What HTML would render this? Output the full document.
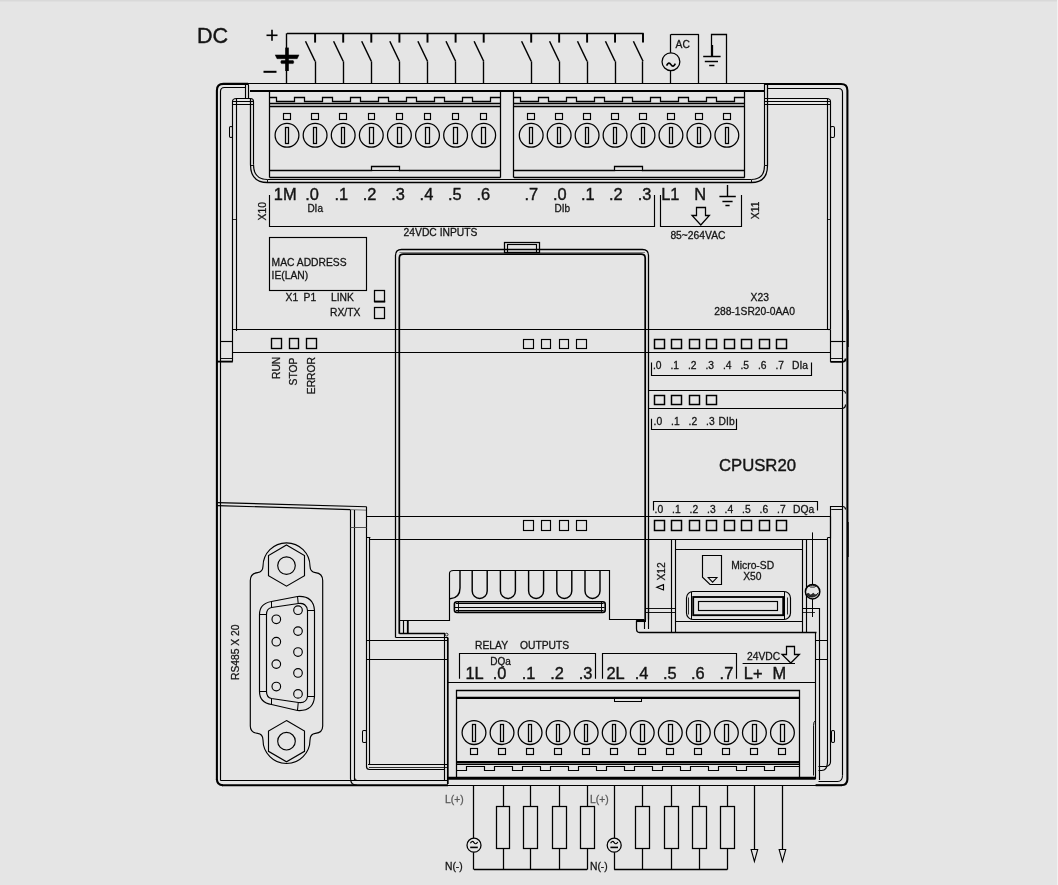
<!DOCTYPE html>
<html lang="en">
<head>
<meta charset="utf-8">
<title>CPU SR20 wiring diagram</title>
<style>
html,body{margin:0;padding:0;background:#e5e5e5;}
body{width:1058px;height:885px;overflow:hidden;font-family:"Liberation Sans",sans-serif;}
svg{display:block;filter:grayscale(1);}
</style>
</head>
<body>
<svg width="1058" height="885" viewBox="0 0 1058 885" font-family="'Liberation Sans', sans-serif">
<rect x="0" y="0" width="1058" height="885" fill="#e5e5e5"/>
<rect x="0" y="0" width="1058" height="1.5" fill="#d9d9d9"/>
<rect x="1057" y="0" width="1" height="885" fill="#f2f2f2"/>
<text x="197" y="42.8" font-size="21.6" fill="#141414" stroke="#141414" stroke-width="0.4" text-anchor="start" >DC</text>
<line x1="266.5" y1="35.3" x2="277.5" y2="35.3" stroke="#000000" stroke-width="1.61" />
<line x1="272" y1="29.8" x2="272" y2="40.8" stroke="#000000" stroke-width="1.61" />
<line x1="263.5" y1="71.8" x2="276.5" y2="71.8" stroke="#000000" stroke-width="2.01" />
<line x1="287.0" y1="33.5" x2="643.6" y2="33.5" stroke="#000000" stroke-width="1.38" />
<line x1="286.5" y1="33.3" x2="286.5" y2="83.6" stroke="#000000" stroke-width="1.38" />
<line x1="287.0" y1="47.6" x2="287.0" y2="71" stroke="#000000" stroke-width="3.56" />
<path d="M275.2,54.9 H299 L297.2,58.7 H277 Z" fill="#000" stroke="#000000" stroke-width="0.46" />
<path d="M281.4,60.6 H293.2 Q294.6,62 293.2,63.6 H281.4 Q280,62 281.4,60.6 Z" fill="#000" stroke="#000000" stroke-width="0.46" />
<line x1="315.1" y1="33.3" x2="315.1" y2="42.6" stroke="#000000" stroke-width="1.95" />
<line x1="305.5" y1="41.2" x2="315.1" y2="61.3" stroke="#000000" stroke-width="1.49" />
<line x1="315.5" y1="61.3" x2="315.5" y2="83.6" stroke="#000000" stroke-width="1.38" />
<line x1="343.2" y1="33.3" x2="343.2" y2="42.6" stroke="#000000" stroke-width="1.95" />
<line x1="333.59999999999997" y1="41.2" x2="343.2" y2="61.3" stroke="#000000" stroke-width="1.49" />
<line x1="343.5" y1="61.3" x2="343.5" y2="83.6" stroke="#000000" stroke-width="1.38" />
<line x1="371.3" y1="33.3" x2="371.3" y2="42.6" stroke="#000000" stroke-width="1.95" />
<line x1="361.7" y1="41.2" x2="371.3" y2="61.3" stroke="#000000" stroke-width="1.49" />
<line x1="371.5" y1="61.3" x2="371.5" y2="83.6" stroke="#000000" stroke-width="1.38" />
<line x1="399.4" y1="33.3" x2="399.4" y2="42.6" stroke="#000000" stroke-width="1.95" />
<line x1="389.79999999999995" y1="41.2" x2="399.4" y2="61.3" stroke="#000000" stroke-width="1.49" />
<line x1="399.5" y1="61.3" x2="399.5" y2="83.6" stroke="#000000" stroke-width="1.38" />
<line x1="427.5" y1="33.3" x2="427.5" y2="42.6" stroke="#000000" stroke-width="1.95" />
<line x1="417.9" y1="41.2" x2="427.5" y2="61.3" stroke="#000000" stroke-width="1.49" />
<line x1="427.5" y1="61.3" x2="427.5" y2="83.6" stroke="#000000" stroke-width="1.38" />
<line x1="455.6" y1="33.3" x2="455.6" y2="42.6" stroke="#000000" stroke-width="1.95" />
<line x1="446.0" y1="41.2" x2="455.6" y2="61.3" stroke="#000000" stroke-width="1.49" />
<line x1="455.5" y1="61.3" x2="455.5" y2="83.6" stroke="#000000" stroke-width="1.38" />
<line x1="483.70000000000005" y1="33.3" x2="483.70000000000005" y2="42.6" stroke="#000000" stroke-width="1.95" />
<line x1="474.1" y1="41.2" x2="483.70000000000005" y2="61.3" stroke="#000000" stroke-width="1.49" />
<line x1="483.5" y1="61.3" x2="483.5" y2="83.6" stroke="#000000" stroke-width="1.38" />
<line x1="531.2" y1="33.3" x2="531.2" y2="42.6" stroke="#000000" stroke-width="1.95" />
<line x1="521.6" y1="41.2" x2="531.2" y2="61.3" stroke="#000000" stroke-width="1.49" />
<line x1="531.5" y1="61.3" x2="531.5" y2="83.6" stroke="#000000" stroke-width="1.38" />
<line x1="559.1500000000001" y1="33.3" x2="559.1500000000001" y2="42.6" stroke="#000000" stroke-width="1.95" />
<line x1="549.5500000000001" y1="41.2" x2="559.1500000000001" y2="61.3" stroke="#000000" stroke-width="1.49" />
<line x1="559.5" y1="61.3" x2="559.5" y2="83.6" stroke="#000000" stroke-width="1.38" />
<line x1="587.1" y1="33.3" x2="587.1" y2="42.6" stroke="#000000" stroke-width="1.95" />
<line x1="577.5" y1="41.2" x2="587.1" y2="61.3" stroke="#000000" stroke-width="1.49" />
<line x1="587.5" y1="61.3" x2="587.5" y2="83.6" stroke="#000000" stroke-width="1.38" />
<line x1="615.0500000000001" y1="33.3" x2="615.0500000000001" y2="42.6" stroke="#000000" stroke-width="1.95" />
<line x1="605.45" y1="41.2" x2="615.0500000000001" y2="61.3" stroke="#000000" stroke-width="1.49" />
<line x1="615.5" y1="61.3" x2="615.5" y2="83.6" stroke="#000000" stroke-width="1.38" />
<line x1="643.0" y1="33.3" x2="643.0" y2="42.6" stroke="#000000" stroke-width="1.95" />
<line x1="633.4" y1="41.2" x2="643.0" y2="61.3" stroke="#000000" stroke-width="1.49" />
<line x1="642.5" y1="61.3" x2="642.5" y2="83.6" stroke="#000000" stroke-width="1.38" />
<line x1="670.5" y1="83.6" x2="670.5" y2="70.6" stroke="#000000" stroke-width="1.26" />
<circle cx="670.95" cy="61.7" r="8.9" fill="none" stroke="#000000" stroke-width="1.26"/>
<line x1="670.5" y1="52.8" x2="670.5" y2="34.3" stroke="#000000" stroke-width="1.26" />
<line x1="670.95" y1="34.5" x2="698.9000000000001" y2="34.5" stroke="#000000" stroke-width="1.26" />
<line x1="698.5" y1="34.3" x2="698.5" y2="83.6" stroke="#000000" stroke-width="1.26" />
<path d="M666.5500000000001,65.6 q2.2,-4.4 4.4,-1 t4.4,-1" fill="none" stroke="#000000" stroke-width="1.72" />
<text x="675.6" y="48.2" font-size="10.3" fill="#141414" stroke="#141414" stroke-width="0.28" text-anchor="start" >AC</text>
<polyline points="726.5,83.6 726.5,34.5 711.5,34.5 711.5,56.3" fill="none" stroke="#000000" stroke-width="1.26" />
<line x1="712.5" y1="45" x2="712.5" y2="56.3" stroke="#000000" stroke-width="1.26" />
<line x1="703.2" y1="56.5" x2="720.6" y2="56.5" stroke="#000000" stroke-width="1.49" />
<line x1="704.8" y1="61.5" x2="718" y2="61.5" stroke="#000000" stroke-width="1.49" />
<line x1="709.2" y1="65.5" x2="714.4" y2="65.5" stroke="#000000" stroke-width="1.49" />
<path d="M216.9,780 V90.4 Q216.9,83.9 223.4,83.9 H248" fill="none" stroke="#000000" stroke-width="2.07" />
<line x1="247" y1="83.5" x2="765.4" y2="83.5" stroke="#000000" stroke-width="1.15" />
<path d="M764.7,84 H841 Q847.4,84 847.4,90.4 V779.2 Q847.4,785.2 841,785.2" fill="none" stroke="#000000" stroke-width="2.07" />
<path d="M216.9,779 Q216.9,785.2 223,785.2" fill="none" stroke="#000000" stroke-width="2.07" />
<line x1="448" y1="785.5" x2="816" y2="785.5" stroke="#000000" stroke-width="1.15" />
<path d="M220.5,780.5 V91.5 Q220.5,87.5 224.5,87.5 H245.5" fill="none" stroke="#000000" stroke-width="1.15" />
<path d="M767.5,88.5 H838.5 Q842.5,88.5 842.5,92.5 V775.5" fill="none" stroke="#000000" stroke-width="1.15" />
<line x1="250" y1="91" x2="764.7" y2="91" stroke="#000000" stroke-width="2.01" />
<line x1="245.5" y1="84" x2="245.5" y2="98.4" stroke="#000000" stroke-width="1.15" />
<path d="M248.5,98.5 V85.5 Q248.5,84.5 247.5,83.5" fill="none" stroke="#000000" stroke-width="1.15" />
<path d="M232.5,361.5 V101.5 Q232.5,98.5 236.5,98.5 H250.5 Q253.5,98.5 253.5,101.5 V164.5" fill="none" stroke="#000000" stroke-width="1.15" />
<path d="M253.5,164.5 Q253.5,179.5 267.4,179.5" fill="none" stroke="#000000" stroke-width="1.15" />
<line x1="232.6" y1="101.5" x2="253.9" y2="101.5" stroke="#000000" stroke-width="1.03" />
<line x1="232.6" y1="104.5" x2="253.9" y2="104.5" stroke="#000000" stroke-width="1.03" />
<line x1="236.5" y1="98.6" x2="236.5" y2="331" stroke="#000000" stroke-width="1.15" />
<rect x="229.5" y="126.5" width="3.0" height="11.0" rx="1.2" fill="none" stroke="#000000" stroke-width="1.03"/>
<line x1="232.6" y1="219.5" x2="236.5" y2="219.5" stroke="#000000" stroke-width="0.8" />
<polyline points="220.7,341.5 232.6,341.5" fill="none" stroke="#000000" stroke-width="1.15" />
<polyline points="217,361.6 232.8,361.6" fill="none" stroke="#000000" stroke-width="1.84" />
<polyline points="220.7,358.5 232.6,358.5" fill="none" stroke="#000000" stroke-width="0.92" />
<path d="M250.5,98.5 V164.5 Q250.5,182.5 267.5,182.5 H751.5 Q767.5,182.5 767.5,165.5 V83.5" fill="none" stroke="#000000" stroke-width="1.26" />
<line x1="764.5" y1="84" x2="764.5" y2="165.5" stroke="#000000" stroke-width="1.15" />
<path d="M764.5,165.5 Q764.5,179.5 751.4,179.5" fill="none" stroke="#000000" stroke-width="1.15" />
<line x1="267.4" y1="179.5" x2="751.4" y2="179.5" stroke="#000000" stroke-width="1.15" />
<line x1="267.5" y1="179.8" x2="267.5" y2="182.6" stroke="#000000" stroke-width="0.92" />
<line x1="751.5" y1="179.8" x2="751.5" y2="182.6" stroke="#000000" stroke-width="0.92" />
<line x1="250.5" y1="165.5" x2="253.9" y2="165.5" stroke="#000000" stroke-width="0.92" />
<line x1="764.5" y1="165.5" x2="767.6" y2="165.5" stroke="#000000" stroke-width="0.92" />
<path d="M764.5,98.5 H826.5 Q830.5,98.5 830.5,101.5 V329.5" fill="none" stroke="#000000" stroke-width="1.15" />
<line x1="764.7" y1="101.5" x2="830.4" y2="101.5" stroke="#000000" stroke-width="1.03" />
<line x1="764.7" y1="104.5" x2="830.4" y2="104.5" stroke="#000000" stroke-width="1.03" />
<line x1="827.5" y1="98.4" x2="827.5" y2="330" stroke="#000000" stroke-width="1.15" />
<rect x="830.5" y="126.5" width="4.0" height="11.0" rx="1.4" fill="none" stroke="#000000" stroke-width="1.03"/>
<line x1="827.6" y1="219.5" x2="830.4" y2="219.5" stroke="#000000" stroke-width="0.8" />
<line x1="269.5" y1="90.8" x2="269.5" y2="177.6" stroke="#000000" stroke-width="1.26" />
<line x1="500.5" y1="90.8" x2="500.5" y2="177.6" stroke="#000000" stroke-width="1.26" />
<polyline points="269.6,97.5 276.5,97.5 276.5,101.5 294.5,101.5 294.5,97.5 304.5,97.5 304.5,101.5 322.5,101.5 322.5,97.5 332.5,97.5 332.5,101.5 350.5,101.5 350.5,97.5 360.5,97.5 360.5,101.5 378.5,101.5 378.5,97.5 388.5,97.5 388.5,101.5 406.5,101.5 406.5,97.5 416.5,97.5 416.5,101.5 434.5,101.5 434.5,97.5 444.5,97.5 444.5,101.5 462.5,101.5 462.5,97.5 472.5,97.5 472.5,101.5 490.5,101.5 490.5,97.5 500.5,97.5" fill="none" stroke="#000000" stroke-width="1.26" />
<line x1="269.6" y1="103.5" x2="500.5" y2="103.5" stroke="#000000" stroke-width="1.26" />
<line x1="269.6" y1="106.5" x2="500.5" y2="106.5" stroke="#000000" stroke-width="1.26" />
<rect x="283.5" y="113.5" width="7.0" height="6.0" rx="0" fill="none" stroke="#000000" stroke-width="1.15"/>
<circle cx="287.0" cy="135.3" r="11.9" fill="none" stroke="#000000" stroke-width="1.26"/>
<rect x="285.5" y="127.5" width="3.0" height="16.0" rx="0" fill="none" stroke="#000000" stroke-width="1.26"/>
<rect x="311.5" y="113.5" width="7.0" height="6.0" rx="0" fill="none" stroke="#000000" stroke-width="1.15"/>
<circle cx="315.1" cy="135.3" r="11.9" fill="none" stroke="#000000" stroke-width="1.26"/>
<rect x="313.5" y="127.5" width="3.0" height="16.0" rx="0" fill="none" stroke="#000000" stroke-width="1.26"/>
<rect x="339.5" y="113.5" width="7.0" height="6.0" rx="0" fill="none" stroke="#000000" stroke-width="1.15"/>
<circle cx="343.2" cy="135.3" r="11.9" fill="none" stroke="#000000" stroke-width="1.26"/>
<rect x="341.5" y="127.5" width="3.0" height="16.0" rx="0" fill="none" stroke="#000000" stroke-width="1.26"/>
<rect x="368.5" y="113.5" width="6.0" height="6.0" rx="0" fill="none" stroke="#000000" stroke-width="1.15"/>
<circle cx="371.3" cy="135.3" r="11.9" fill="none" stroke="#000000" stroke-width="1.26"/>
<rect x="369.5" y="127.5" width="4.0" height="16.0" rx="0" fill="none" stroke="#000000" stroke-width="1.26"/>
<rect x="396.5" y="113.5" width="6.0" height="6.0" rx="0" fill="none" stroke="#000000" stroke-width="1.15"/>
<circle cx="399.4" cy="135.3" r="11.9" fill="none" stroke="#000000" stroke-width="1.26"/>
<rect x="397.5" y="127.5" width="4.0" height="16.0" rx="0" fill="none" stroke="#000000" stroke-width="1.26"/>
<rect x="424.5" y="113.5" width="6.0" height="6.0" rx="0" fill="none" stroke="#000000" stroke-width="1.15"/>
<circle cx="427.5" cy="135.3" r="11.9" fill="none" stroke="#000000" stroke-width="1.26"/>
<rect x="425.5" y="127.5" width="4.0" height="16.0" rx="0" fill="none" stroke="#000000" stroke-width="1.26"/>
<rect x="452.5" y="113.5" width="6.0" height="6.0" rx="0" fill="none" stroke="#000000" stroke-width="1.15"/>
<circle cx="455.6" cy="135.3" r="11.9" fill="none" stroke="#000000" stroke-width="1.26"/>
<rect x="453.5" y="127.5" width="4.0" height="16.0" rx="0" fill="none" stroke="#000000" stroke-width="1.26"/>
<rect x="480.5" y="113.5" width="6.0" height="6.0" rx="0" fill="none" stroke="#000000" stroke-width="1.15"/>
<circle cx="483.70000000000005" cy="135.3" r="11.9" fill="none" stroke="#000000" stroke-width="1.26"/>
<rect x="481.5" y="127.5" width="4.0" height="16.0" rx="0" fill="none" stroke="#000000" stroke-width="1.26"/>
<polyline points="269.6,170.5 371.5,170.5 371.5,166.5 399.5,166.5 399.5,170.5 500.5,170.5" fill="none" stroke="#000000" stroke-width="1.26" />
<line x1="371.6" y1="170.5" x2="400" y2="170.5" stroke="#000000" stroke-width="1.15" />
<line x1="269.6" y1="177.5" x2="500.5" y2="177.5" stroke="#000000" stroke-width="1.26" />
<line x1="513.5" y1="90.8" x2="513.5" y2="177.6" stroke="#000000" stroke-width="1.26" />
<line x1="744.5" y1="90.8" x2="744.5" y2="177.6" stroke="#000000" stroke-width="1.26" />
<polyline points="513.8,97.5 520.5,97.5 520.5,101.5 538.5,101.5 538.5,97.5 548.5,97.5 548.5,101.5 566.5,101.5 566.5,97.5 576.5,97.5 576.5,101.5 594.5,101.5 594.5,97.5 604.5,97.5 604.5,101.5 622.5,101.5 622.5,97.5 632.5,97.5 632.5,101.5 650.5,101.5 650.5,97.5 660.5,97.5 660.5,101.5 678.5,101.5 678.5,97.5 688.5,97.5 688.5,101.5 706.5,101.5 706.5,97.5 716.5,97.5 716.5,101.5 734.5,101.5 734.5,97.5 744.6,97.5" fill="none" stroke="#000000" stroke-width="1.26" />
<line x1="513.8" y1="103.5" x2="744.6" y2="103.5" stroke="#000000" stroke-width="1.26" />
<line x1="513.8" y1="106.5" x2="744.6" y2="106.5" stroke="#000000" stroke-width="1.26" />
<rect x="527.5" y="113.5" width="7.0" height="6.0" rx="0" fill="none" stroke="#000000" stroke-width="1.15"/>
<circle cx="531.2" cy="135.3" r="11.9" fill="none" stroke="#000000" stroke-width="1.26"/>
<rect x="529.5" y="127.5" width="3.0" height="16.0" rx="0" fill="none" stroke="#000000" stroke-width="1.26"/>
<rect x="555.5" y="113.5" width="7.0" height="6.0" rx="0" fill="none" stroke="#000000" stroke-width="1.15"/>
<circle cx="559.1500000000001" cy="135.3" r="11.9" fill="none" stroke="#000000" stroke-width="1.26"/>
<rect x="557.5" y="127.5" width="3.0" height="16.0" rx="0" fill="none" stroke="#000000" stroke-width="1.26"/>
<rect x="583.5" y="113.5" width="7.0" height="6.0" rx="0" fill="none" stroke="#000000" stroke-width="1.15"/>
<circle cx="587.1" cy="135.3" r="11.9" fill="none" stroke="#000000" stroke-width="1.26"/>
<rect x="585.5" y="127.5" width="3.0" height="16.0" rx="0" fill="none" stroke="#000000" stroke-width="1.26"/>
<rect x="611.5" y="113.5" width="7.0" height="6.0" rx="0" fill="none" stroke="#000000" stroke-width="1.15"/>
<circle cx="615.0500000000001" cy="135.3" r="11.9" fill="none" stroke="#000000" stroke-width="1.26"/>
<rect x="613.5" y="127.5" width="3.0" height="16.0" rx="0" fill="none" stroke="#000000" stroke-width="1.26"/>
<rect x="639.5" y="113.5" width="7.0" height="6.0" rx="0" fill="none" stroke="#000000" stroke-width="1.15"/>
<circle cx="643.0" cy="135.3" r="11.9" fill="none" stroke="#000000" stroke-width="1.26"/>
<rect x="641.5" y="127.5" width="3.0" height="16.0" rx="0" fill="none" stroke="#000000" stroke-width="1.26"/>
<rect x="667.5" y="113.5" width="7.0" height="6.0" rx="0" fill="none" stroke="#000000" stroke-width="1.15"/>
<circle cx="670.95" cy="135.3" r="11.9" fill="none" stroke="#000000" stroke-width="1.26"/>
<rect x="669.5" y="127.5" width="3.0" height="16.0" rx="0" fill="none" stroke="#000000" stroke-width="1.26"/>
<rect x="695.5" y="113.5" width="7.0" height="6.0" rx="0" fill="none" stroke="#000000" stroke-width="1.15"/>
<circle cx="698.9000000000001" cy="135.3" r="11.9" fill="none" stroke="#000000" stroke-width="1.26"/>
<rect x="697.5" y="127.5" width="3.0" height="16.0" rx="0" fill="none" stroke="#000000" stroke-width="1.26"/>
<rect x="723.5" y="113.5" width="7.0" height="6.0" rx="0" fill="none" stroke="#000000" stroke-width="1.15"/>
<circle cx="726.85" cy="135.3" r="11.9" fill="none" stroke="#000000" stroke-width="1.26"/>
<rect x="725.5" y="127.5" width="3.0" height="16.0" rx="0" fill="none" stroke="#000000" stroke-width="1.26"/>
<polyline points="513.8,170.5 614.5,170.5 614.5,166.5 642.5,166.5 642.5,170.5 744.6,170.5" fill="none" stroke="#000000" stroke-width="1.26" />
<line x1="615" y1="170.5" x2="643" y2="170.5" stroke="#000000" stroke-width="1.15" />
<line x1="513.8" y1="177.5" x2="744.6" y2="177.5" stroke="#000000" stroke-width="1.26" />
<text x="273.8" y="199.6" font-size="16.4" fill="#141414" stroke="#141414" stroke-width="0.4" text-anchor="start" >1M</text>
<text x="305.3" y="199.6" font-size="16.4" fill="#141414" stroke="#141414" stroke-width="0.4" text-anchor="start" >.0</text>
<text x="334.4" y="199.6" font-size="16.4" fill="#141414" stroke="#141414" stroke-width="0.4" text-anchor="start" >.1</text>
<text x="362.8" y="199.6" font-size="16.4" fill="#141414" stroke="#141414" stroke-width="0.4" text-anchor="start" >.2</text>
<text x="391.2" y="199.6" font-size="16.4" fill="#141414" stroke="#141414" stroke-width="0.4" text-anchor="start" >.3</text>
<text x="419.6" y="199.6" font-size="16.4" fill="#141414" stroke="#141414" stroke-width="0.4" text-anchor="start" >.4</text>
<text x="448.0" y="199.6" font-size="16.4" fill="#141414" stroke="#141414" stroke-width="0.4" text-anchor="start" >.5</text>
<text x="476.5" y="199.6" font-size="16.4" fill="#141414" stroke="#141414" stroke-width="0.4" text-anchor="start" >.6</text>
<text x="524.4" y="199.6" font-size="16.4" fill="#141414" stroke="#141414" stroke-width="0.4" text-anchor="start" >.7</text>
<text x="553.0" y="199.6" font-size="16.4" fill="#141414" stroke="#141414" stroke-width="0.4" text-anchor="start" >.0</text>
<text x="581.0" y="199.6" font-size="16.4" fill="#141414" stroke="#141414" stroke-width="0.4" text-anchor="start" >.1</text>
<text x="609.0" y="199.6" font-size="16.4" fill="#141414" stroke="#141414" stroke-width="0.4" text-anchor="start" >.2</text>
<text x="637.7" y="199.6" font-size="16.4" fill="#141414" stroke="#141414" stroke-width="0.4" text-anchor="start" >.3</text>
<text x="661.2" y="199.6" font-size="16.4" fill="#141414" stroke="#141414" stroke-width="0.4" text-anchor="start" >L1</text>
<text x="694.2" y="199.6" font-size="16.4" fill="#141414" stroke="#141414" stroke-width="0.4" text-anchor="start" >N</text>
<text x="307.4" y="211.6" font-size="10" fill="#141414" stroke="#141414" stroke-width="0.28" text-anchor="start" >DIa</text>
<text x="554.6" y="211.5" font-size="10" fill="#141414" stroke="#141414" stroke-width="0.28" text-anchor="start" >DIb</text>
<line x1="727.5" y1="185" x2="727.5" y2="196.2" stroke="#000000" stroke-width="1.38" />
<line x1="719.4" y1="196.5" x2="735.8" y2="196.5" stroke="#000000" stroke-width="1.49" />
<line x1="722.4" y1="201.5" x2="732.6" y2="201.5" stroke="#000000" stroke-width="1.49" />
<line x1="725.4" y1="205.5" x2="729.6" y2="205.5" stroke="#000000" stroke-width="1.49" />
<polyline points="269.5,195 269.5,226.5 654.5,226.5 654.5,195" fill="none" stroke="#000000" stroke-width="1.15" />
<polyline points="660.5,195 660.5,226.5 741.5,226.5 741.5,195" fill="none" stroke="#000000" stroke-width="1.15" />
<text transform="translate(266.2,220.4) rotate(-90)" font-size="10.3" fill="#141414" stroke="#141414" stroke-width="0.28">X10</text>
<text transform="translate(758.8,219.2) rotate(-90)" font-size="10.3" fill="#141414" stroke="#141414" stroke-width="0.28">X11</text>
<polygon points="696.5,207.5 705.5,207.5 705.5,215.5 709.4,215.5 700.8,225 692,215.5 696.5,215.5" fill="none" stroke="#000000" stroke-width="1.26" />
<text x="403.6" y="236.4" font-size="10.3" fill="#141414" stroke="#141414" stroke-width="0.28" text-anchor="start" >24VDC INPUTS</text>
<text x="670.4" y="238.8" font-size="10.3" fill="#141414" stroke="#141414" stroke-width="0.28" text-anchor="start" >85~264VAC</text>
<rect x="269.5" y="237.5" width="97.0" height="53.0" rx="0" fill="none" stroke="#000000" stroke-width="1.15"/>
<text x="271.6" y="266.4" font-size="10.3" fill="#141414" stroke="#141414" stroke-width="0.28" text-anchor="start" >MAC ADDRESS</text>
<text x="271.6" y="279.4" font-size="10.3" fill="#141414" stroke="#141414" stroke-width="0.28" text-anchor="start" >IE(LAN)</text>
<text x="285.6" y="300.8" font-size="10.3" fill="#141414" stroke="#141414" stroke-width="0.28" text-anchor="start" >X1</text>
<text x="303.6" y="300.8" font-size="10.3" fill="#141414" stroke="#141414" stroke-width="0.28" text-anchor="start" >P1</text>
<text x="331" y="300.8" font-size="10.3" fill="#141414" stroke="#141414" stroke-width="0.28" text-anchor="start" >LINK</text>
<text x="330" y="316.4" font-size="10.3" fill="#141414" stroke="#141414" stroke-width="0.28" text-anchor="start" >RX/TX</text>
<rect x="374.5" y="290.5" width="10.0" height="11.0" rx="0" fill="none" stroke="#000000" stroke-width="1.26"/>
<line x1="374.2" y1="301.6" x2="385.2" y2="301.6" stroke="#000000" stroke-width="1.84" />
<rect x="374.5" y="307.5" width="10.0" height="11.0" rx="0" fill="none" stroke="#000000" stroke-width="1.26"/>
<rect x="271.5" y="338.5" width="10.0" height="10.0" rx="0" fill="none" stroke="#000000" stroke-width="1.38"/>
<rect x="289.5" y="338.5" width="9.0" height="10.0" rx="0" fill="none" stroke="#000000" stroke-width="1.38"/>
<rect x="306.5" y="338.5" width="10.0" height="10.0" rx="0" fill="none" stroke="#000000" stroke-width="1.38"/>
<text transform="translate(280,379) rotate(-90)" font-size="10.3" fill="#141414" stroke="#141414" stroke-width="0.28">RUN</text>
<text transform="translate(297.2,385.4) rotate(-90)" font-size="10.3" fill="#141414" stroke="#141414" stroke-width="0.28">STOP</text>
<text transform="translate(315,394.2) rotate(-90)" font-size="10.3" fill="#141414" stroke="#141414" stroke-width="0.28">ERROR</text>
<line x1="232.6" y1="329.5" x2="827.6" y2="329.5" stroke="#000000" stroke-width="1.15" />
<line x1="232.6" y1="352.5" x2="830.6" y2="352.5" stroke="#000000" stroke-width="1.15" />
<line x1="366.6" y1="516.5" x2="831" y2="516.5" stroke="#000000" stroke-width="1.15" />
<line x1="369.9" y1="539.5" x2="827.6" y2="539.5" stroke="#000000" stroke-width="1.15" />
<path d="M395.5,637.5 V255.5 Q395.5,249.5 401.5,249.5 H642.5 Q648.5,249.5 648.5,255.5 V619.5" fill="none" stroke="#000000" stroke-width="1.26" />
<path d="M399.3,633.8 V258 Q399.3,254.2 403.2,254.2 H641.2 Q645.2,254.2 645.2,258 V620" fill="none" stroke="#000000" stroke-width="1.72" />
<line x1="399.4" y1="252.5" x2="645" y2="252.5" stroke="#555" stroke-width="0.69" />
<rect x="504.5" y="242.5" width="35.0" height="10.0" rx="0" fill="none" stroke="#000000" stroke-width="1.26"/>
<rect x="507.5" y="244.5" width="29.0" height="8.0" rx="0" fill="none" stroke="#000000" stroke-width="1.15"/>
<rect x="523.5" y="339.5" width="10.0" height="9.0" rx="0" fill="none" stroke="#000000" stroke-width="1.15"/>
<rect x="541.5" y="339.5" width="9.0" height="9.0" rx="0" fill="none" stroke="#000000" stroke-width="1.15"/>
<rect x="559.5" y="339.5" width="9.0" height="9.0" rx="0" fill="none" stroke="#000000" stroke-width="1.15"/>
<rect x="576.5" y="339.5" width="10.0" height="9.0" rx="0" fill="none" stroke="#000000" stroke-width="1.15"/>
<rect x="523.5" y="520.5" width="10.0" height="10.0" rx="0" fill="none" stroke="#000000" stroke-width="1.15"/>
<rect x="541.5" y="520.5" width="9.0" height="10.0" rx="0" fill="none" stroke="#000000" stroke-width="1.15"/>
<rect x="559.5" y="520.5" width="9.0" height="10.0" rx="0" fill="none" stroke="#000000" stroke-width="1.15"/>
<rect x="576.5" y="520.5" width="10.0" height="10.0" rx="0" fill="none" stroke="#000000" stroke-width="1.15"/>
<polyline points="395.6,637.5 448,637.5" fill="none" stroke="#000000" stroke-width="1.15" />
<polyline points="399.4,633.5 445,633.5" fill="none" stroke="#000000" stroke-width="1.38" />
<line x1="403.5" y1="620.6" x2="403.5" y2="633.8" stroke="#000000" stroke-width="1.15" />
<line x1="407.8" y1="620.6" x2="407.8" y2="633.8" stroke="#000000" stroke-width="1.84" />
<path d="M399.5,620.5 H449.5 V573.5 Q449.5,570.5 453.5,570.5 H609.5 V619.5 H644.5" fill="none" stroke="#000000" stroke-width="1.15" />
<circle cx="446.6" cy="634.6" r="1.4" fill="none" stroke="#000000" stroke-width="0.8"/>
<path d="M472.2,570.6 V591 A7.5,7.5 0 0 0 487.2,591 V570.6" fill="none" stroke="#000000" stroke-width="1.44" />
<path d="M500.4,570.6 V591 A7.5,7.5 0 0 0 515.4,591 V570.6" fill="none" stroke="#000000" stroke-width="1.44" />
<path d="M528.6,570.6 V591 A7.5,7.5 0 0 0 543.6,591 V570.6" fill="none" stroke="#000000" stroke-width="1.44" />
<path d="M556.8,570.6 V591 A7.5,7.5 0 0 0 571.8,591 V570.6" fill="none" stroke="#000000" stroke-width="1.44" />
<path d="M585.0,570.6 V591 A7.5,7.5 0 0 0 600.0,591 V570.6" fill="none" stroke="#000000" stroke-width="1.44" />
<path d="M450,598.8 Q460,598 460,588 V570.6" fill="none" stroke="#000000" stroke-width="1.44" />
<rect x="454.4" y="601.8" width="150.80000000000007" height="10.600000000000023" rx="2.5" fill="none" stroke="#000000" stroke-width="1.61"/>
<line x1="456" y1="603.5" x2="603.6" y2="603.5" stroke="#000000" stroke-width="1.03" />
<line x1="455" y1="607.5" x2="604.6" y2="607.5" stroke="#000000" stroke-width="1.03" />
<line x1="456" y1="610.5" x2="603.6" y2="610.5" stroke="#000000" stroke-width="1.03" />
<line x1="458.5" y1="602" x2="458.5" y2="612.2" stroke="#000000" stroke-width="0.92" />
<line x1="601.5" y1="602" x2="601.5" y2="612.2" stroke="#000000" stroke-width="0.92" />
<line x1="217.4" y1="502.6" x2="366.6" y2="506.8" stroke="#000000" stroke-width="1.15" />
<line x1="217.4" y1="505.6" x2="350.6" y2="509.6" stroke="#000000" stroke-width="1.15" />
<line x1="350.6" y1="509.6" x2="366.6" y2="510.2" stroke="#555" stroke-width="0.8" />
<line x1="350.5" y1="510" x2="350.5" y2="779" stroke="#000000" stroke-width="1.15" />
<line x1="354.5" y1="510" x2="354.5" y2="780.8" stroke="#000000" stroke-width="1.15" />
<path d="M350.6,779 Q350.6,785.2 357,785.2" fill="none" stroke="#000000" stroke-width="1.15" />
<path d="M354.5,777.5 Q354.5,780.5 357.5,780.5" fill="none" stroke="#000000" stroke-width="0.92" />
<line x1="366.5" y1="506.8" x2="366.5" y2="767" stroke="#000000" stroke-width="1.15" />
<line x1="350.6" y1="527.5" x2="366.6" y2="527.5" stroke="#444" stroke-width="0.92" />
<line x1="369.5" y1="537.6" x2="369.5" y2="765" stroke="#000000" stroke-width="1.15" />
<line x1="366.6" y1="537.5" x2="370.4" y2="537.5" stroke="#000000" stroke-width="1.03" />
<line x1="366.6" y1="640.5" x2="448" y2="640.5" stroke="#000000" stroke-width="1.15" />
<line x1="366.6" y1="659.5" x2="448" y2="659.5" stroke="#000000" stroke-width="1.15" />
<line x1="444.5" y1="633.8" x2="444.5" y2="781" stroke="#000000" stroke-width="1.15" />
<line x1="447.8" y1="637.6" x2="447.8" y2="784" stroke="#000000" stroke-width="1.72" />
<path d="M366.5,766.5 Q366.5,769.5 369.5,769.5 H444.5" fill="none" stroke="#000000" stroke-width="1.15" />
<line x1="368" y1="764.5" x2="447.6" y2="764.5" stroke="#000000" stroke-width="1.03" />
<line x1="369" y1="767.5" x2="447.6" y2="767.5" stroke="#000000" stroke-width="0.8" />
<rect x="362.5" y="730.5" width="4.0" height="12.0" rx="1.2" fill="none" stroke="#000000" stroke-width="1.03"/>
<line x1="220.4" y1="780.5" x2="448" y2="780.5" stroke="#000000" stroke-width="1.03" />
<line x1="222" y1="785.2" x2="448" y2="785.2" stroke="#000000" stroke-width="2.07" />
<text transform="translate(239.4,680) rotate(-90)" font-size="10.3" fill="#141414" stroke="#141414" stroke-width="0.28">RS485 X 20</text>
<path d="M250.3,726 V580.6 Q250.3,573.4 257.6,572.6 Q262.8,572 263.0,566.3 A23.5,23.5 0 0 1 310.0,566.3 Q310.2,572 315.4,572.6 Q322.7,573.4 322.7,580.6 V726 Q322.7,732.6 315.4,733.4 Q310.2,734 310.0,740 A23.5,23.5 0 0 1 263.0,740 Q262.8,734 257.6,733.4 Q250.3,732.6 250.3,726 Z" fill="none" stroke="#000000" stroke-width="1.15" />
<polygon points="286.5,545.0 304.5,555.5 304.5,575.7 286.5,586.2 268.5,575.7 268.5,555.5" fill="none" stroke="#000000" stroke-width="1.15" />
<circle cx="286.5" cy="565.6" r="8.8" fill="none" stroke="#000000" stroke-width="1.15"/>
<polygon points="286.5,720.6 304.5,731.1 304.5,751.3000000000001 286.5,761.8000000000001 268.5,751.3000000000001 268.5,731.1" fill="none" stroke="#000000" stroke-width="1.15" />
<circle cx="286.5" cy="741.2" r="8.8" fill="none" stroke="#000000" stroke-width="1.15"/>
<path d="M259.5,614.5 Q259.5,603.5 271.5,601.5 L297.5,596.5 Q313.5,595.5 314.5,610.5 V696.5 Q313.5,711.5 297.5,710.5 L271.5,704.5 Q259.5,702.5 259.5,691.5 Z" fill="none" stroke="#000000" stroke-width="1.15" />
<path d="M266.5,614.5 Q266.5,608.5 271.5,607.5 L298.5,603.5 Q306.5,602.5 307.5,610.5 V696.5 Q306.5,703.5 298.5,702.5 L271.5,698.5 Q266.5,697.5 266.5,691.5 Z" fill="none" stroke="#000000" stroke-width="1.15" />
<line x1="271.5" y1="601.1" x2="271.5" y2="608" stroke="#000000" stroke-width="1.03" />
<line x1="297.5" y1="596.2" x2="298.2" y2="603.4" stroke="#000000" stroke-width="1.03" />
<line x1="271.5" y1="704.5" x2="271.5" y2="698.4" stroke="#000000" stroke-width="1.03" />
<line x1="297.5" y1="710.1" x2="298.2" y2="703" stroke="#000000" stroke-width="1.03" />
<line x1="259.4" y1="614.5" x2="266.5" y2="614.5" stroke="#000000" stroke-width="1.03" />
<line x1="307.6" y1="610.5" x2="314.6" y2="610.5" stroke="#000000" stroke-width="1.03" />
<line x1="259.4" y1="691.5" x2="266.5" y2="691.5" stroke="#000000" stroke-width="1.03" />
<line x1="307.6" y1="696.5" x2="314.6" y2="696.5" stroke="#000000" stroke-width="1.03" />
<circle cx="298" cy="610.2" r="4.3" fill="none" stroke="#000000" stroke-width="1.15"/>
<circle cx="298" cy="631.12" r="4.3" fill="none" stroke="#000000" stroke-width="1.15"/>
<circle cx="298" cy="652.0400000000001" r="4.3" fill="none" stroke="#000000" stroke-width="1.15"/>
<circle cx="298" cy="672.96" r="4.3" fill="none" stroke="#000000" stroke-width="1.15"/>
<circle cx="298" cy="693.8800000000001" r="4.3" fill="none" stroke="#000000" stroke-width="1.15"/>
<circle cx="276.3" cy="619.3" r="4.3" fill="none" stroke="#000000" stroke-width="1.15"/>
<circle cx="276.3" cy="641.6999999999999" r="4.3" fill="none" stroke="#000000" stroke-width="1.15"/>
<circle cx="276.3" cy="664.0999999999999" r="4.3" fill="none" stroke="#000000" stroke-width="1.15"/>
<circle cx="276.3" cy="686.5" r="4.3" fill="none" stroke="#000000" stroke-width="1.15"/>
<rect x="654.5" y="339.5" width="10.0" height="9.0" rx="0" fill="none" stroke="#000000" stroke-width="1.49"/>
<rect x="654.5" y="520.5" width="10.0" height="10.0" rx="0" fill="none" stroke="#000000" stroke-width="1.49"/>
<rect x="671.5" y="339.5" width="10.0" height="9.0" rx="0" fill="none" stroke="#000000" stroke-width="1.49"/>
<rect x="671.5" y="520.5" width="10.0" height="10.0" rx="0" fill="none" stroke="#000000" stroke-width="1.49"/>
<rect x="689.5" y="339.5" width="10.0" height="9.0" rx="0" fill="none" stroke="#000000" stroke-width="1.49"/>
<rect x="689.5" y="520.5" width="10.0" height="10.0" rx="0" fill="none" stroke="#000000" stroke-width="1.49"/>
<rect x="706.5" y="339.5" width="10.0" height="9.0" rx="0" fill="none" stroke="#000000" stroke-width="1.49"/>
<rect x="706.5" y="520.5" width="10.0" height="10.0" rx="0" fill="none" stroke="#000000" stroke-width="1.49"/>
<rect x="724.5" y="339.5" width="10.0" height="9.0" rx="0" fill="none" stroke="#000000" stroke-width="1.49"/>
<rect x="724.5" y="520.5" width="10.0" height="10.0" rx="0" fill="none" stroke="#000000" stroke-width="1.49"/>
<rect x="741.5" y="339.5" width="10.0" height="9.0" rx="0" fill="none" stroke="#000000" stroke-width="1.49"/>
<rect x="741.5" y="520.5" width="10.0" height="10.0" rx="0" fill="none" stroke="#000000" stroke-width="1.49"/>
<rect x="759.5" y="339.5" width="10.0" height="9.0" rx="0" fill="none" stroke="#000000" stroke-width="1.49"/>
<rect x="759.5" y="520.5" width="10.0" height="10.0" rx="0" fill="none" stroke="#000000" stroke-width="1.49"/>
<rect x="776.5" y="339.5" width="10.0" height="9.0" rx="0" fill="none" stroke="#000000" stroke-width="1.49"/>
<rect x="776.5" y="520.5" width="10.0" height="10.0" rx="0" fill="none" stroke="#000000" stroke-width="1.49"/>
<rect x="654.5" y="395.5" width="10.0" height="9.0" rx="0" fill="none" stroke="#000000" stroke-width="1.49"/>
<rect x="671.5" y="395.5" width="10.0" height="9.0" rx="0" fill="none" stroke="#000000" stroke-width="1.49"/>
<rect x="689.5" y="395.5" width="10.0" height="9.0" rx="0" fill="none" stroke="#000000" stroke-width="1.49"/>
<rect x="706.5" y="395.5" width="10.0" height="9.0" rx="0" fill="none" stroke="#000000" stroke-width="1.49"/>
<text x="750.6" y="301.4" font-size="10.3" fill="#141414" stroke="#141414" stroke-width="0.28" text-anchor="start" >X23</text>
<text x="714.2" y="315.2" font-size="10.3" fill="#141414" stroke="#141414" stroke-width="0.28" text-anchor="start" >288-1SR20-0AA0</text>
<text x="653.0" y="368.8" font-size="10.3" fill="#141414" stroke="#141414" stroke-width="0.28" text-anchor="start" >.0</text>
<text x="654.6" y="512.6" font-size="10.3" fill="#141414" stroke="#141414" stroke-width="0.28" text-anchor="start" >.0</text>
<text x="670.5" y="368.8" font-size="10.3" fill="#141414" stroke="#141414" stroke-width="0.28" text-anchor="start" >.1</text>
<text x="672.1" y="512.6" font-size="10.3" fill="#141414" stroke="#141414" stroke-width="0.28" text-anchor="start" >.1</text>
<text x="688.0" y="368.8" font-size="10.3" fill="#141414" stroke="#141414" stroke-width="0.28" text-anchor="start" >.2</text>
<text x="689.6" y="512.6" font-size="10.3" fill="#141414" stroke="#141414" stroke-width="0.28" text-anchor="start" >.2</text>
<text x="705.5" y="368.8" font-size="10.3" fill="#141414" stroke="#141414" stroke-width="0.28" text-anchor="start" >.3</text>
<text x="707.1" y="512.6" font-size="10.3" fill="#141414" stroke="#141414" stroke-width="0.28" text-anchor="start" >.3</text>
<text x="723.0" y="368.8" font-size="10.3" fill="#141414" stroke="#141414" stroke-width="0.28" text-anchor="start" >.4</text>
<text x="724.6" y="512.6" font-size="10.3" fill="#141414" stroke="#141414" stroke-width="0.28" text-anchor="start" >.4</text>
<text x="740.5" y="368.8" font-size="10.3" fill="#141414" stroke="#141414" stroke-width="0.28" text-anchor="start" >.5</text>
<text x="742.1" y="512.6" font-size="10.3" fill="#141414" stroke="#141414" stroke-width="0.28" text-anchor="start" >.5</text>
<text x="758.0" y="368.8" font-size="10.3" fill="#141414" stroke="#141414" stroke-width="0.28" text-anchor="start" >.6</text>
<text x="759.6" y="512.6" font-size="10.3" fill="#141414" stroke="#141414" stroke-width="0.28" text-anchor="start" >.6</text>
<text x="775.5" y="368.8" font-size="10.3" fill="#141414" stroke="#141414" stroke-width="0.28" text-anchor="start" >.7</text>
<text x="777.1" y="512.6" font-size="10.3" fill="#141414" stroke="#141414" stroke-width="0.28" text-anchor="start" >.7</text>
<text x="653.6" y="424.6" font-size="10.3" fill="#141414" stroke="#141414" stroke-width="0.28" text-anchor="start" >.0</text>
<text x="671.1" y="424.6" font-size="10.3" fill="#141414" stroke="#141414" stroke-width="0.28" text-anchor="start" >.1</text>
<text x="688.6" y="424.6" font-size="10.3" fill="#141414" stroke="#141414" stroke-width="0.28" text-anchor="start" >.2</text>
<text x="706.1" y="424.6" font-size="10.3" fill="#141414" stroke="#141414" stroke-width="0.28" text-anchor="start" >.3</text>
<text x="792" y="368.8" font-size="10.3" fill="#141414" stroke="#141414" stroke-width="0.28" text-anchor="start" >DIa</text>
<text x="718.6" y="424.6" font-size="10.3" fill="#141414" stroke="#141414" stroke-width="0.28" text-anchor="start" >DIb</text>
<text x="793" y="512.6" font-size="10.3" fill="#141414" stroke="#141414" stroke-width="0.28" text-anchor="start" >DQa</text>
<polyline points="651.5,362.6 651.5,375.5 811.5,375.5 811.5,362.6" fill="none" stroke="#000000" stroke-width="1.15" />
<polyline points="651.5,418.8 651.5,429.5 736.5,429.5 736.5,418.8" fill="none" stroke="#000000" stroke-width="1.15" />
<polyline points="653.5,510.4 653.5,501.5 817.5,501.5 817.5,510.4" fill="none" stroke="#000000" stroke-width="1.15" />
<path d="M648.5,390.5 H841.5 Q845.5,390.5 845.5,393.5" fill="none" stroke="#000000" stroke-width="1.15" />
<path d="M648.5,408.5 H841.5 Q845.5,408.5 845.5,404.5" fill="none" stroke="#000000" stroke-width="1.15" />
<text x="719" y="470.8" font-size="16.7" fill="#141414" stroke="#141414" stroke-width="0.4" text-anchor="start" >CPUSR20</text>
<polyline points="827.6,329.5 830.6,329.5" fill="none" stroke="#000000" stroke-width="1.15" />
<polyline points="830.5,330 830.5,361.8" fill="none" stroke="#000000" stroke-width="1.15" />
<line x1="830.6" y1="341.5" x2="845.4" y2="341.5" stroke="#000000" stroke-width="1.15" />
<path d="M830.4,361.8 H842.6 Q845.6,361.8 845.6,358.6" fill="none" stroke="#000000" stroke-width="1.84" />
<line x1="830.6" y1="358.5" x2="842.7" y2="358.5" stroke="#000000" stroke-width="0.92" />
<line x1="848.5" y1="310" x2="848.5" y2="347" stroke="#000000" stroke-width="0.69" />
<line x1="848.5" y1="522" x2="848.5" y2="557" stroke="#000000" stroke-width="0.69" />
<path d="M830.5,538.5 V506.5 H842.5 Q845.5,506.5 845.5,509.5" fill="none" stroke="#000000" stroke-width="1.15" />
<line x1="831.2" y1="509.5" x2="843" y2="509.5" stroke="#000000" stroke-width="0.92" />
<path d="M827.5,537.5 V761.5 Q827.5,770.5 821.5,770.5 H818.5" fill="none" stroke="#000000" stroke-width="1.15" />
<path d="M830.5,516.5 V761.5 Q830.5,765.5 826.5,766.5 H818.5" fill="none" stroke="#000000" stroke-width="1.15" />
<line x1="827.6" y1="537.5" x2="831" y2="537.5" stroke="#000000" stroke-width="1.03" />
<rect x="831.5" y="730.5" width="3.0" height="12.0" rx="1.2" fill="none" stroke="#000000" stroke-width="1.03"/>
<line x1="816" y1="640.5" x2="827.6" y2="640.5" stroke="#000000" stroke-width="1.03" />
<line x1="816" y1="659.5" x2="827.6" y2="659.5" stroke="#000000" stroke-width="1.03" />
<line x1="648.5" y1="539.4" x2="648.5" y2="629" stroke="#000000" stroke-width="1.15" />
<line x1="644.5" y1="620" x2="644.5" y2="629" stroke="#000000" stroke-width="1.15" />
<path d="M636.5,620.5 V628.5 Q636.5,632.5 639.5,632.5 H816.5" fill="none" stroke="#000000" stroke-width="1.26" />
<line x1="636.2" y1="621" x2="646" y2="621" stroke="#000000" stroke-width="2.07" />
<line x1="671.5" y1="539.4" x2="671.5" y2="632.6" stroke="#000000" stroke-width="1.15" />
<line x1="675.5" y1="539.4" x2="675.5" y2="632.6" stroke="#000000" stroke-width="1.15" />
<line x1="645" y1="608.5" x2="675.4" y2="608.5" stroke="#000000" stroke-width="0.92" />
<line x1="645" y1="612.5" x2="675.4" y2="612.5" stroke="#000000" stroke-width="0.92" />
<line x1="675.4" y1="549.5" x2="802.6" y2="549.5" stroke="#000000" stroke-width="1.15" />
<line x1="675.4" y1="621.5" x2="802.6" y2="621.5" stroke="#000000" stroke-width="1.15" />
<line x1="802.5" y1="539.4" x2="802.5" y2="632.6" stroke="#000000" stroke-width="1.15" />
<line x1="806.5" y1="539.4" x2="806.5" y2="632.6" stroke="#000000" stroke-width="1.15" />
<polyline points="802.6,608.5 819.5,608.5 819.5,780" fill="none" stroke="#000000" stroke-width="1.15" />
<line x1="802.6" y1="612.5" x2="815" y2="612.5" stroke="#000000" stroke-width="0.8" />
<line x1="812.5" y1="532.4" x2="812.5" y2="617" stroke="#000000" stroke-width="1.03" />
<circle cx="812.6" cy="591.7" r="7.2" fill="#e5e5e5" stroke="#000" stroke-width="1.5"/>
<ellipse cx="812.6" cy="586.3" rx="3.2" ry="0.9" fill="#cfcfcf" stroke="#000" stroke-width="0.8"/>
<path d="M806.6,594.4 q1.6,-2 3,-0.2 q1.2,1.6 2.4,0 q1.4,-1.8 2.6,0.2 q1.4,1.6 3.6,-1.6 A6.6,6.6 0 0 1 806.6,594.4 Z" fill="#000" fill-opacity="0.8" stroke="#000" stroke-width="0.6"/>
<polygon points="702.5,555.5 721.5,555.5 721.5,584.5 710,584.5 702.5,577.2" fill="none" stroke="#000000" stroke-width="1.15" />
<polygon points="708.2,577.5 717,577.5 712.6,582.2" fill="none" stroke="#000000" stroke-width="1.03" />
<text x="731.2" y="569.4" font-size="10.3" fill="#141414" stroke="#141414" stroke-width="0.28" text-anchor="start" >Micro-SD</text>
<text x="743.2" y="580.2" font-size="10.3" fill="#141414" stroke="#141414" stroke-width="0.28" text-anchor="start" >X50</text>
<rect x="686.5" y="591.5" width="104.0" height="28.0" rx="6.5" fill="none" stroke="#000000" stroke-width="1.15"/>
<line x1="691.5" y1="592" x2="691.5" y2="619.5" stroke="#000000" stroke-width="1.03" />
<line x1="784.5" y1="592" x2="784.5" y2="619.5" stroke="#000000" stroke-width="1.03" />
<rect x="693.2" y="597" width="90.0" height="18.200000000000045" rx="0" fill="none" stroke="#000000" stroke-width="1.84"/>
<rect x="698.5" y="601.5" width="79.0" height="9.0" rx="0" fill="none" stroke="#000000" stroke-width="1.15"/>
<line x1="688.5" y1="597.5" x2="688.5" y2="614.5" stroke="#000000" stroke-width="0.8" />
<line x1="787.5" y1="597.5" x2="787.5" y2="614.5" stroke="#000000" stroke-width="0.8" />
<text transform="translate(665,580.6) rotate(-90)" font-size="10.3" fill="#141414" stroke="#141414" stroke-width="0.28">X12</text>
<polygon points="656.8,587.3 663.5,584.6 663.5,590" fill="none" stroke="#000000" stroke-width="1.15" />
<line x1="448" y1="682.5" x2="815.6" y2="682.5" stroke="#000000" stroke-width="1.15" />
<line x1="815.5" y1="632.6" x2="815.5" y2="779" stroke="#000000" stroke-width="1.15" />
<text x="475" y="648.8" font-size="10.3" fill="#141414" stroke="#141414" stroke-width="0.28" text-anchor="start" >RELAY</text>
<text x="520" y="648.8" font-size="10.3" fill="#141414" stroke="#141414" stroke-width="0.28" text-anchor="start" >OUTPUTS</text>
<text x="490.2" y="665.4" font-size="10" fill="#141414" stroke="#141414" stroke-width="0.28" text-anchor="start" >DQa</text>
<polyline points="459.5,678.8 459.5,653.5 595.5,653.5 595.5,678.8" fill="none" stroke="#000000" stroke-width="1.15" />
<polyline points="602.5,678.8 602.5,653.5 736.5,653.5 736.5,678.8" fill="none" stroke="#000000" stroke-width="1.15" />
<text x="465.4" y="678.8" font-size="16.4" fill="#141414" stroke="#141414" stroke-width="0.4" text-anchor="start" >1L</text>
<text x="492.8" y="678.8" font-size="16.4" fill="#141414" stroke="#141414" stroke-width="0.4" text-anchor="start" >.0</text>
<text x="521.8" y="678.8" font-size="16.4" fill="#141414" stroke="#141414" stroke-width="0.4" text-anchor="start" >.1</text>
<text x="550.3" y="678.8" font-size="16.4" fill="#141414" stroke="#141414" stroke-width="0.4" text-anchor="start" >.2</text>
<text x="578.7" y="678.8" font-size="16.4" fill="#141414" stroke="#141414" stroke-width="0.4" text-anchor="start" >.3</text>
<text x="606.4" y="678.8" font-size="16.4" fill="#141414" stroke="#141414" stroke-width="0.4" text-anchor="start" >2L</text>
<text x="634.8" y="678.8" font-size="16.4" fill="#141414" stroke="#141414" stroke-width="0.4" text-anchor="start" >.4</text>
<text x="663" y="678.8" font-size="16.4" fill="#141414" stroke="#141414" stroke-width="0.4" text-anchor="start" >.5</text>
<text x="691" y="678.8" font-size="16.4" fill="#141414" stroke="#141414" stroke-width="0.4" text-anchor="start" >.6</text>
<text x="719.6" y="678.8" font-size="16.4" fill="#141414" stroke="#141414" stroke-width="0.4" text-anchor="start" >.7</text>
<text x="743.8" y="678.8" font-size="16.4" fill="#141414" stroke="#141414" stroke-width="0.4" text-anchor="start" >L+</text>
<text x="772.4" y="678.8" font-size="16.4" fill="#141414" stroke="#141414" stroke-width="0.4" text-anchor="start" >M</text>
<text x="747" y="660" font-size="10.3" fill="#141414" stroke="#141414" stroke-width="0.28" text-anchor="start" >24VDC</text>
<line x1="742.6" y1="663.5" x2="795" y2="663.5" stroke="#000000" stroke-width="1.15" />
<polygon points="786.5,646.5 794.5,646.5 794.5,654.5 799.4,654.5 790.8,663 782,654.5 786.5,654.5" fill="none" stroke="#000000" stroke-width="1.26" />
<polyline points="456.5,778 456.5,690.5 799.5,690.5 799.5,778" fill="none" stroke="#000000" stroke-width="1.26" />
<line x1="456.8" y1="697.9" x2="799.6" y2="697.9" stroke="#000000" stroke-width="2.3" />
<rect x="614.5" y="697.5" width="27.0" height="4.0" rx="0" fill="none" stroke="#000000" stroke-width="1.03"/>
<circle cx="474.0" cy="732.6" r="11.9" fill="none" stroke="#000000" stroke-width="1.26"/>
<rect x="472.5" y="724.5" width="3.0" height="17.0" rx="0" fill="none" stroke="#000000" stroke-width="1.26"/>
<rect x="470.5" y="748.5" width="7.0" height="6.0" rx="0" fill="none" stroke="#000000" stroke-width="1.15"/>
<circle cx="502.04" cy="732.6" r="11.9" fill="none" stroke="#000000" stroke-width="1.26"/>
<rect x="500.5" y="724.5" width="3.0" height="17.0" rx="0" fill="none" stroke="#000000" stroke-width="1.26"/>
<rect x="498.5" y="748.5" width="7.0" height="6.0" rx="0" fill="none" stroke="#000000" stroke-width="1.15"/>
<circle cx="530.08" cy="732.6" r="11.9" fill="none" stroke="#000000" stroke-width="1.26"/>
<rect x="528.5" y="724.5" width="3.0" height="17.0" rx="0" fill="none" stroke="#000000" stroke-width="1.26"/>
<rect x="526.5" y="748.5" width="7.0" height="6.0" rx="0" fill="none" stroke="#000000" stroke-width="1.15"/>
<circle cx="558.12" cy="732.6" r="11.9" fill="none" stroke="#000000" stroke-width="1.26"/>
<rect x="556.5" y="724.5" width="3.0" height="17.0" rx="0" fill="none" stroke="#000000" stroke-width="1.26"/>
<rect x="554.5" y="748.5" width="7.0" height="6.0" rx="0" fill="none" stroke="#000000" stroke-width="1.15"/>
<circle cx="586.16" cy="732.6" r="11.9" fill="none" stroke="#000000" stroke-width="1.26"/>
<rect x="584.5" y="724.5" width="3.0" height="17.0" rx="0" fill="none" stroke="#000000" stroke-width="1.26"/>
<rect x="582.5" y="748.5" width="7.0" height="6.0" rx="0" fill="none" stroke="#000000" stroke-width="1.15"/>
<circle cx="614.2" cy="732.6" r="11.9" fill="none" stroke="#000000" stroke-width="1.26"/>
<rect x="612.5" y="724.5" width="3.0" height="17.0" rx="0" fill="none" stroke="#000000" stroke-width="1.26"/>
<rect x="610.5" y="748.5" width="7.0" height="6.0" rx="0" fill="none" stroke="#000000" stroke-width="1.15"/>
<circle cx="642.24" cy="732.6" r="11.9" fill="none" stroke="#000000" stroke-width="1.26"/>
<rect x="640.5" y="724.5" width="4.0" height="17.0" rx="0" fill="none" stroke="#000000" stroke-width="1.26"/>
<rect x="638.5" y="748.5" width="7.0" height="6.0" rx="0" fill="none" stroke="#000000" stroke-width="1.15"/>
<circle cx="670.28" cy="732.6" r="11.9" fill="none" stroke="#000000" stroke-width="1.26"/>
<rect x="668.5" y="724.5" width="4.0" height="17.0" rx="0" fill="none" stroke="#000000" stroke-width="1.26"/>
<rect x="666.5" y="748.5" width="7.0" height="6.0" rx="0" fill="none" stroke="#000000" stroke-width="1.15"/>
<circle cx="698.3199999999999" cy="732.6" r="11.9" fill="none" stroke="#000000" stroke-width="1.26"/>
<rect x="696.5" y="724.5" width="4.0" height="17.0" rx="0" fill="none" stroke="#000000" stroke-width="1.26"/>
<rect x="694.5" y="748.5" width="7.0" height="6.0" rx="0" fill="none" stroke="#000000" stroke-width="1.15"/>
<circle cx="726.36" cy="732.6" r="11.9" fill="none" stroke="#000000" stroke-width="1.26"/>
<rect x="724.5" y="724.5" width="4.0" height="17.0" rx="0" fill="none" stroke="#000000" stroke-width="1.26"/>
<rect x="722.5" y="748.5" width="7.0" height="6.0" rx="0" fill="none" stroke="#000000" stroke-width="1.15"/>
<circle cx="754.4" cy="732.6" r="11.9" fill="none" stroke="#000000" stroke-width="1.26"/>
<rect x="752.5" y="724.5" width="4.0" height="17.0" rx="0" fill="none" stroke="#000000" stroke-width="1.26"/>
<rect x="750.5" y="748.5" width="7.0" height="6.0" rx="0" fill="none" stroke="#000000" stroke-width="1.15"/>
<circle cx="782.44" cy="732.6" r="11.9" fill="none" stroke="#000000" stroke-width="1.26"/>
<rect x="780.5" y="724.5" width="4.0" height="17.0" rx="0" fill="none" stroke="#000000" stroke-width="1.26"/>
<rect x="778.5" y="748.5" width="7.0" height="6.0" rx="0" fill="none" stroke="#000000" stroke-width="1.15"/>
<line x1="456.8" y1="762.2" x2="799.6" y2="762.2" stroke="#000000" stroke-width="2.53" />
<line x1="456.8" y1="764.5" x2="799.6" y2="764.5" stroke="#000000" stroke-width="1.03" />
<polyline points="456.8,770.5 466.5,770.5 466.5,766.5 484.5,766.5 484.5,770.5 494.5,770.5 494.5,766.5 512.5,766.5 512.5,770.5 522.5,770.5 522.5,766.5 540.5,766.5 540.5,770.5 550.5,770.5 550.5,766.5 568.5,766.5 568.5,770.5 578.5,770.5 578.5,766.5 596.5,766.5 596.5,770.5 606.5,770.5 606.5,766.5 624.5,766.5 624.5,770.5 634.5,770.5 634.5,766.5 652.5,766.5 652.5,770.5 662.5,770.5 662.5,766.5 680.5,766.5 680.5,770.5 690.5,770.5 690.5,766.5 708.5,766.5 708.5,770.5 718.5,770.5 718.5,766.5 736.5,766.5 736.5,770.5 746.5,770.5 746.5,766.5 764.5,766.5 764.5,770.5 774.5,770.5 774.5,766.5 799.6,766.5" fill="none" stroke="#000000" stroke-width="1.15" />
<line x1="448" y1="778.3" x2="815.6" y2="778.3" stroke="#000000" stroke-width="2.99" />
<line x1="473.5" y1="785.2" x2="473.5" y2="838.2" stroke="#000000" stroke-width="1.26" />
<circle cx="474.0" cy="845.2" r="7" fill="none" stroke="#000000" stroke-width="1.26"/>
<line x1="473.5" y1="852.2" x2="473.5" y2="869.6" stroke="#000000" stroke-width="1.26" />
<path d="M470.4,843.2 q1.8,-3.2 3.6,-0.6 t3.6,-0.6" fill="none" stroke="#000000" stroke-width="1.15" />
<line x1="470.2" y1="847.4" x2="477.8" y2="847.4" stroke="#000000" stroke-width="1.61" />
<line x1="614.5" y1="785.2" x2="614.5" y2="838.2" stroke="#000000" stroke-width="1.26" />
<circle cx="614.2" cy="845.2" r="7" fill="none" stroke="#000000" stroke-width="1.26"/>
<line x1="614.5" y1="852.2" x2="614.5" y2="869.6" stroke="#000000" stroke-width="1.26" />
<path d="M610.6,843.2 q1.8,-3.2 3.6,-0.6 t3.6,-0.6" fill="none" stroke="#000000" stroke-width="1.15" />
<line x1="610.4000000000001" y1="847.4" x2="618.0" y2="847.4" stroke="#000000" stroke-width="1.61" />
<line x1="503.5" y1="785.2" x2="503.5" y2="806.6" stroke="#000000" stroke-width="1.26" />
<rect x="496.5" y="806.5" width="13.0" height="42.0" rx="0" fill="none" stroke="#000000" stroke-width="1.26"/>
<line x1="503.5" y1="849" x2="503.5" y2="869.6" stroke="#000000" stroke-width="1.26" />
<line x1="530.5" y1="785.2" x2="530.5" y2="806.6" stroke="#000000" stroke-width="1.26" />
<rect x="523.5" y="806.5" width="14.0" height="42.0" rx="0" fill="none" stroke="#000000" stroke-width="1.26"/>
<line x1="530.5" y1="849" x2="530.5" y2="869.6" stroke="#000000" stroke-width="1.26" />
<line x1="559.5" y1="785.2" x2="559.5" y2="806.6" stroke="#000000" stroke-width="1.26" />
<rect x="552.5" y="806.5" width="14.0" height="42.0" rx="0" fill="none" stroke="#000000" stroke-width="1.26"/>
<line x1="559.5" y1="849" x2="559.5" y2="869.6" stroke="#000000" stroke-width="1.26" />
<line x1="587.5" y1="785.2" x2="587.5" y2="806.6" stroke="#000000" stroke-width="1.26" />
<rect x="580.5" y="806.5" width="14.0" height="42.0" rx="0" fill="none" stroke="#000000" stroke-width="1.26"/>
<line x1="587.5" y1="849" x2="587.5" y2="869.6" stroke="#000000" stroke-width="1.26" />
<line x1="642.5" y1="785.2" x2="642.5" y2="806.6" stroke="#000000" stroke-width="1.26" />
<rect x="635.5" y="806.5" width="14.0" height="42.0" rx="0" fill="none" stroke="#000000" stroke-width="1.26"/>
<line x1="642.5" y1="849" x2="642.5" y2="869.6" stroke="#000000" stroke-width="1.26" />
<line x1="671.5" y1="785.2" x2="671.5" y2="806.6" stroke="#000000" stroke-width="1.26" />
<rect x="664.5" y="806.5" width="14.0" height="42.0" rx="0" fill="none" stroke="#000000" stroke-width="1.26"/>
<line x1="671.5" y1="849" x2="671.5" y2="869.6" stroke="#000000" stroke-width="1.26" />
<line x1="699.5" y1="785.2" x2="699.5" y2="806.6" stroke="#000000" stroke-width="1.26" />
<rect x="692.5" y="806.5" width="14.0" height="42.0" rx="0" fill="none" stroke="#000000" stroke-width="1.26"/>
<line x1="699.5" y1="849" x2="699.5" y2="869.6" stroke="#000000" stroke-width="1.26" />
<line x1="727.5" y1="785.2" x2="727.5" y2="806.6" stroke="#000000" stroke-width="1.26" />
<rect x="720.5" y="806.5" width="14.0" height="42.0" rx="0" fill="none" stroke="#000000" stroke-width="1.26"/>
<line x1="727.5" y1="849" x2="727.5" y2="869.6" stroke="#000000" stroke-width="1.26" />
<line x1="474.0" y1="869.5" x2="587.16" y2="869.5" stroke="#000000" stroke-width="1.26" />
<line x1="614.2" y1="869.5" x2="727.36" y2="869.5" stroke="#000000" stroke-width="1.26" />
<line x1="754.5" y1="785.2" x2="754.5" y2="849" stroke="#000000" stroke-width="1.26" />
<polygon points="751.1,849.5 757.6999999999999,849.5 754.4,861.4" fill="none" stroke="#000000" stroke-width="1.09" />
<line x1="782.5" y1="785.2" x2="782.5" y2="849" stroke="#000000" stroke-width="1.26" />
<polygon points="779.1400000000001,849.5 785.74,849.5 782.44,861.4" fill="none" stroke="#000000" stroke-width="1.09" />
<text x="445" y="803.4" font-size="10.3" fill="#5a5a5a" stroke="#5a5a5a" stroke-width="0.28" text-anchor="start" >L(+)</text>
<text x="445" y="869.6" font-size="10.3" fill="#141414" stroke="#141414" stroke-width="0.28" text-anchor="start" >N(-)</text>
<text x="590" y="803.4" font-size="10.3" fill="#5a5a5a" stroke="#5a5a5a" stroke-width="0.28" text-anchor="start" >L(+)</text>
<text x="590" y="869.6" font-size="10.3" fill="#141414" stroke="#141414" stroke-width="0.28" text-anchor="start" >N(-)</text>
<line x1="815.6" y1="785.2" x2="841.4" y2="785.2" stroke="#000000" stroke-width="2.07" />
<path d="M842.5,775.5 Q842.5,781.5 837.5,781.5 H818.5" fill="none" stroke="#000000" stroke-width="1.03" />
<path d="M813.5,775.5 V725.5 Q813.5,721.5 815.5,720.5" fill="none" stroke="#000000" stroke-width="0.92" />
</svg>
</body>
</html>
